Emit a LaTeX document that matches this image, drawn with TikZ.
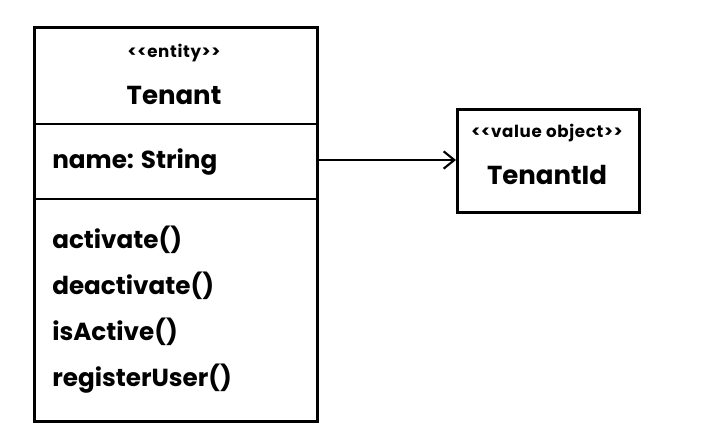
\documentclass[tikz,border=0pt]{standalone}
\usepackage{fontspec}
\setmainfont{Poppins}
\newfontfamily\stereofont{Poppins}[LetterSpace=4]
\usetikzlibrary{arrows.meta}
\begin{document}
\begin{tikzpicture}[x=0.75pt,y=-0.75pt,
  box/.style={draw=black,line width=2.2pt},
  sep/.style={draw=black,line width=2.2pt},
  stereo/.style={font=\stereofont\bfseries\fontsize{12.5}{14}\selectfont,inner sep=0pt},
  title/.style={font=\bfseries\fontsize{19.5}{22}\selectfont,inner sep=0pt},
  member/.style={font=\bfseries\fontsize{18.5}{21}\selectfont,inner sep=0pt,anchor=west},
  assoc/.style={draw=black,line width=1.6pt,-{Straight Barb[length=8pt,width=13pt,line width=1.6pt]}}]
\useasboundingbox (0,0) rectangle (712,444);
\fill[white] (0,0) rectangle (712,444);
% Tenant class
\node[box,minimum width=283*0.75pt,minimum height=394*0.75pt,anchor=north west,inner sep=0pt] (tenant) at (33,26) {};
\coordinate (s1l) at (33,124); \coordinate (s1r) at (316,124);
\coordinate (s2l) at (33,199); \coordinate (s2r) at (316,199);
\draw[sep] (s1l) -- (s1r);
\draw[sep] (s2l) -- (s2r);
\node[stereo] (tst) at (174,53) {{<}{<}entity{>}{>}};
\node[title] (tname) at (174,95) {Tenant};
\node[member] (attr) at (52,162) {name: String};
\node[member] (m1) at (52,240) {activate()};
\node[member] (m2) at (52,286) {deactivate()};
\node[member] (m3) at (52,332) {isActive()};
\node[member] (m4) at (52,379) {registerUser()};
% TenantId
\node[box,minimum width=182*0.75pt,minimum height=103*0.75pt,anchor=north west,inner sep=0pt] (tid) at (456,108) {};
\node[stereo] (vst) at (547,133) {{<}{<}value object{>}{>}};
\node[title] (vname) at (547,175) {TenantId};
\coordinate (astart) at (316,160);
\draw[assoc] (astart) -- (tid.west |- astart);
\end{tikzpicture}
\end{document}
